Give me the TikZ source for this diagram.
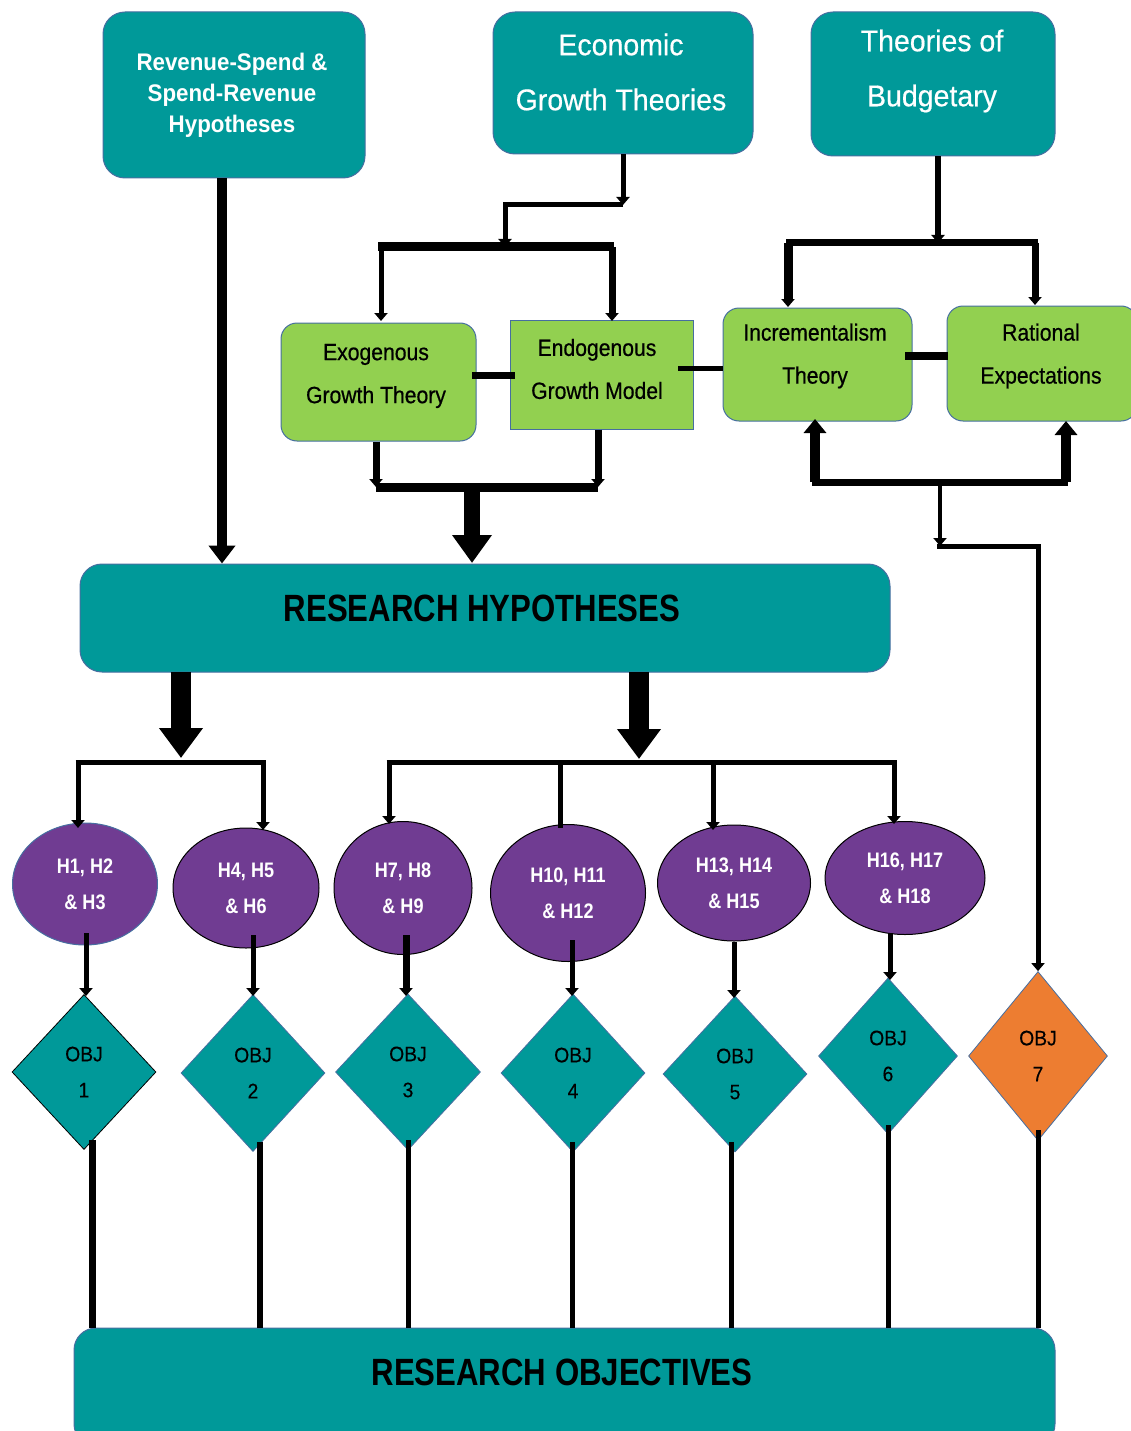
\documentclass[tikz,border=0pt]{standalone}
\usepackage{fontspec}
\setmainfont{Liberation Sans}
\newfontfamily\cnd[FakeStretch=0.82]{Liberation Sans}
\newfontfamily\cndh[FakeStretch=0.86]{Liberation Sans}
\newfontfamily\cndw[FakeStretch=0.93]{Liberation Sans}
\newfontfamily\cndm[FakeStretch=0.9,FakeBold=0.6]{Liberation Sans}
\newfontfamily\cndt[FakeStretch=0.95,FakeBold=0.5]{Liberation Sans}
\newfontfamily\cndo[FakeStretch=0.92,FakeBold=0.3]{Liberation Sans}
\usetikzlibrary{shapes.geometric,arrows.meta}
\definecolor{teal1}{RGB}{0,153,153}
\definecolor{grn}{RGB}{146,208,80}
\definecolor{purp}{RGB}{112,60,146}
\definecolor{orng}{RGB}{237,125,49}
\definecolor{bord}{RGB}{70,110,160}
\begin{document}
\begin{tikzpicture}[x=1pt,y=-1pt,
  tealbox/.style={draw=bord,line width=1pt,fill=teal1,rounded corners=22pt,inner sep=0pt},
  grnbox/.style={draw=bord,line width=1pt,fill=grn,rounded corners=16pt,inner sep=0pt},
  grnsq/.style={draw=bord,line width=1pt,fill=grn,inner sep=0pt},
  wtxt/.style={text=white,align=center,inner sep=0pt},
  btxt/.style={text=black,align=center,inner sep=0pt,font=\cndm\fontsize{23.5}{43}\selectfont},
  hyp/.style={ellipse,draw=black,line width=1pt,fill=purp,text=white,align=center,inner sep=0pt,
     font=\cndh\bfseries\fontsize{21}{36}\selectfont},
  obj/.style={diamond,draw=bord,line width=0.8pt,fill=teal1,align=center,inner sep=0pt,
     font=\cndo\fontsize{21}{36}\selectfont},
  conn/.style={line width=5pt},
  tip/.style={-{Triangle[width=13pt,length=8pt]}},
  bigtip/.style={-{Triangle[width=42pt,length=30pt]}}
]
\useasboundingbox (0,0) rectangle (1130,1431);

% top boxes
\node[tealbox,minimum width=262pt,minimum height=166pt] (A) at (234,95) {};
\node[wtxt,font=\cndw\bfseries\fontsize{24}{31}\selectfont] (Atxt) at (232,95) {Revenue-Spend \&\\Spend-Revenue\\Hypotheses};
\node[tealbox,minimum width=260pt,minimum height=142pt] (B) at (623,83) {};
\node[wtxt,font=\cndt\fontsize{30}{55}\selectfont] (Btxt) at (621,72) {Economic\\Growth Theories};
\node[tealbox,minimum width=244pt,minimum height=144pt] (C) at (933,84) {};
\node[wtxt,font=\cndt\fontsize{30}{55}\selectfont] (Ctxt) at (932,71) {Theories of\\Budgetary};

% green boxes
\node[grnbox,minimum width=195pt,minimum height=118pt] (Exo) at (378.5,382) {};
\node[btxt] (Exotxt) at (376,376) {Exogenous\\Growth Theory};
\node[grnsq,minimum width=183pt,minimum height=109pt] (Endo) at (601.5,374.5) {};
\node[btxt] (Endotxt) at (597,369) {Endogenous\\Growth Model};
\node[grnbox,minimum width=189pt,minimum height=113pt] (Inc) at (817.5,364.5) {};
\node[btxt] (Inctxt) at (815,356) {Incrementalism\\Theory};
\node[grnbox,minimum width=190pt,minimum height=115pt] (Rat) at (1042,363.5) {};
\node[btxt] (Rattxt) at (1041,356) {Rational\\Expectations};

% research hypotheses
\node[tealbox,minimum width=810pt,minimum height=108pt] (RH) at (485,618) {};
\node[text=black,inner sep=0pt,font=\cnd\bfseries\fontsize{38}{40}\selectfont] (RHtxt) at (482,608) {RESEARCH HYPOTHESES};

% hypotheses ellipses
\node[hyp,draw=bord,minimum width=145pt,minimum height=122pt] (E1) at (85,884) {H1, H2\\\& H3};
\node[hyp,minimum width=146pt,minimum height=120pt] (E2) at (246,888) {H4, H5\\\& H6};
\node[hyp,minimum width=138pt,minimum height=133pt] (E3) at (403,888) {H7, H8\\\& H9};
\node[hyp,minimum width=155pt,minimum height=137pt] (E4) at (568,893) {H10, H11\\\& H12};
\node[hyp,minimum width=153pt,minimum height=116pt] (E5) at (734,883) {H13, H14\\\& H15};
\node[hyp,minimum width=160pt,minimum height=113pt] (E6) at (905,878) {H16, H17\\\& H18};

% objective diamonds
\node[obj,draw=black,minimum width=144pt,minimum height=155pt] (D1) at (84,1072) {OBJ\\1};
\node[obj,minimum width=144pt,minimum height=157pt] (D2) at (253,1073) {OBJ\\2};
\node[obj,minimum width=145pt,minimum height=156pt] (D3) at (408,1072) {OBJ\\3};
\node[obj,minimum width=144pt,minimum height=158pt] (D4) at (573,1073) {OBJ\\4};
\node[obj,minimum width=144pt,minimum height=156pt] (D5) at (735,1074) {OBJ\\5};
\node[obj,minimum width=139pt,minimum height=156pt] (D6) at (888,1056) {OBJ\\6};
\node[obj,fill=orng,minimum width=139pt,minimum height=169pt] (D7) at (1038,1056) {OBJ\\7};

% research objectives
\node[tealbox,minimum width=981pt,minimum height=118pt] (RO) at (564.5,1387) {};
\node[text=black,inner sep=0pt,font=\cnd\bfseries\fontsize{38}{40}\selectfont] (ROtxt) at (562,1372) {RESEARCH OBJECTIVES};

% ---- connectors ----
\coordinate (b1) at (623,205);
\coordinate (b2) at (505,247);
\coordinate (bl) at (378,247);
\coordinate (br) at (614,247);
\draw[conn,tip] (B.south) -- (b1);
\draw[conn,tip] (b1) -| (b2);
\draw[line width=9pt] (bl) -- (br);
\draw[conn,tip] (381,247) -- (381,321);
\draw[line width=7pt,tip] (612,247) -- (612,321);

\coordinate (c1) at (938,243);
\draw[line width=6pt,tip] (C.south -| c1) -- (c1);
\draw[line width=7pt] (786,243) -- (1038,243);
\draw[line width=9pt,tip] (788,243) -- (788,307);
\draw[line width=7pt,tip] (1035,243) -- (1035,305);

\draw[line width=7pt] (472,375) -- (515,375);
\draw[line width=5pt] (678,368) -- (723,368);
\draw[line width=8pt] (905,356) -- (948,356);

% exo/endo to RH
\coordinate (m1) at (376,487);
\coordinate (m2) at (598,487);
\draw[line width=7pt,tip] (Exo.south -| m1) -- (m1);
\draw[line width=7pt,tip] (Endo.south -| m2) -- (m2);
\draw[line width=9pt] (m1) -- (m2);
\draw[line width=16pt,-{Triangle[width=38pt,length=28pt]}] (472,487) -- (472,563);

% A to RH
\draw[line width=10pt,-{Triangle[width=26pt,length=18pt]}] ([xshift=-12pt]A.south) -- ([xshift=-12pt]A.south |- RH.north);

% incr/rational feedback to OBJ7
\coordinate (f1) at (812,482);
\coordinate (f2) at (1068,482);
\draw[line width=7pt] (f1) -- (f2);
\draw[line width=10pt,-{Triangle[width=22pt,length=14pt]}] (815,482) -- (815,419);
\draw[line width=10pt,-{Triangle[width=22pt,length=14pt]}] (1066,482) -- (1066,421);
\coordinate (f3) at (940,546);
\draw[line width=4pt,tip] (940,482) -- (f3);
\draw[conn,tip] (937,546) -| (D7.north);

% RH down
\draw[line width=20pt,bigtip] (181,672) -- (181,758);
\draw[line width=20pt,bigtip] (639,672) -- (639,759);
\coordinate (L1) at (78,762);
\coordinate (L2) at (263,762);
\coordinate (R1) at (389,762);
\coordinate (R2) at (560,762);
\coordinate (R3) at (713,762);
\coordinate (R4) at (894,762);
\draw[conn] ([xshift=-2.5pt]L1) -- ([xshift=2.5pt]L2);
\draw[conn] ([xshift=-2.5pt]R1) -- ([xshift=2.5pt]R4);
\draw[conn,tip] (L1) -- (78,828);
\draw[conn,tip] (L2) -- (263,830);
\draw[conn,tip] (R1) -- (389,824);
\draw[conn] (R2) -- (560,828);
\draw[conn,tip] (R3) -- (713,830);
\draw[conn,tip] (R4) -- (894,824);

% ellipses to diamonds
\draw[conn,tip] (86,933) -- (86,996);
\draw[conn,tip] (253,935) -- (253,996);
\draw[line width=7pt,tip] (406,935) -- (406,996);
\draw[conn,tip] (572,940) -- (572,996);
\draw[conn,tip] (734,942) -- (734,998);
\draw[conn,tip] (890,933) -- (890,980);

% diamonds to RO
\draw[line width=7pt] (92,1140) -- (92,1140 |- RO.north);
\draw[line width=6pt] (260,1142) -- (260,1142 |- RO.north);
\draw[conn] (408,1140) -- (408,1140 |- RO.north);
\draw[conn] (572,1142) -- (572,1142 |- RO.north);
\draw[conn] (731,1142) -- (731,1142 |- RO.north);
\draw[conn] (888,1125) -- (888,1125 |- RO.north);
\draw[conn] (1038,1130) -- (1038,1130 |- RO.north);
\end{tikzpicture}
\end{document}
